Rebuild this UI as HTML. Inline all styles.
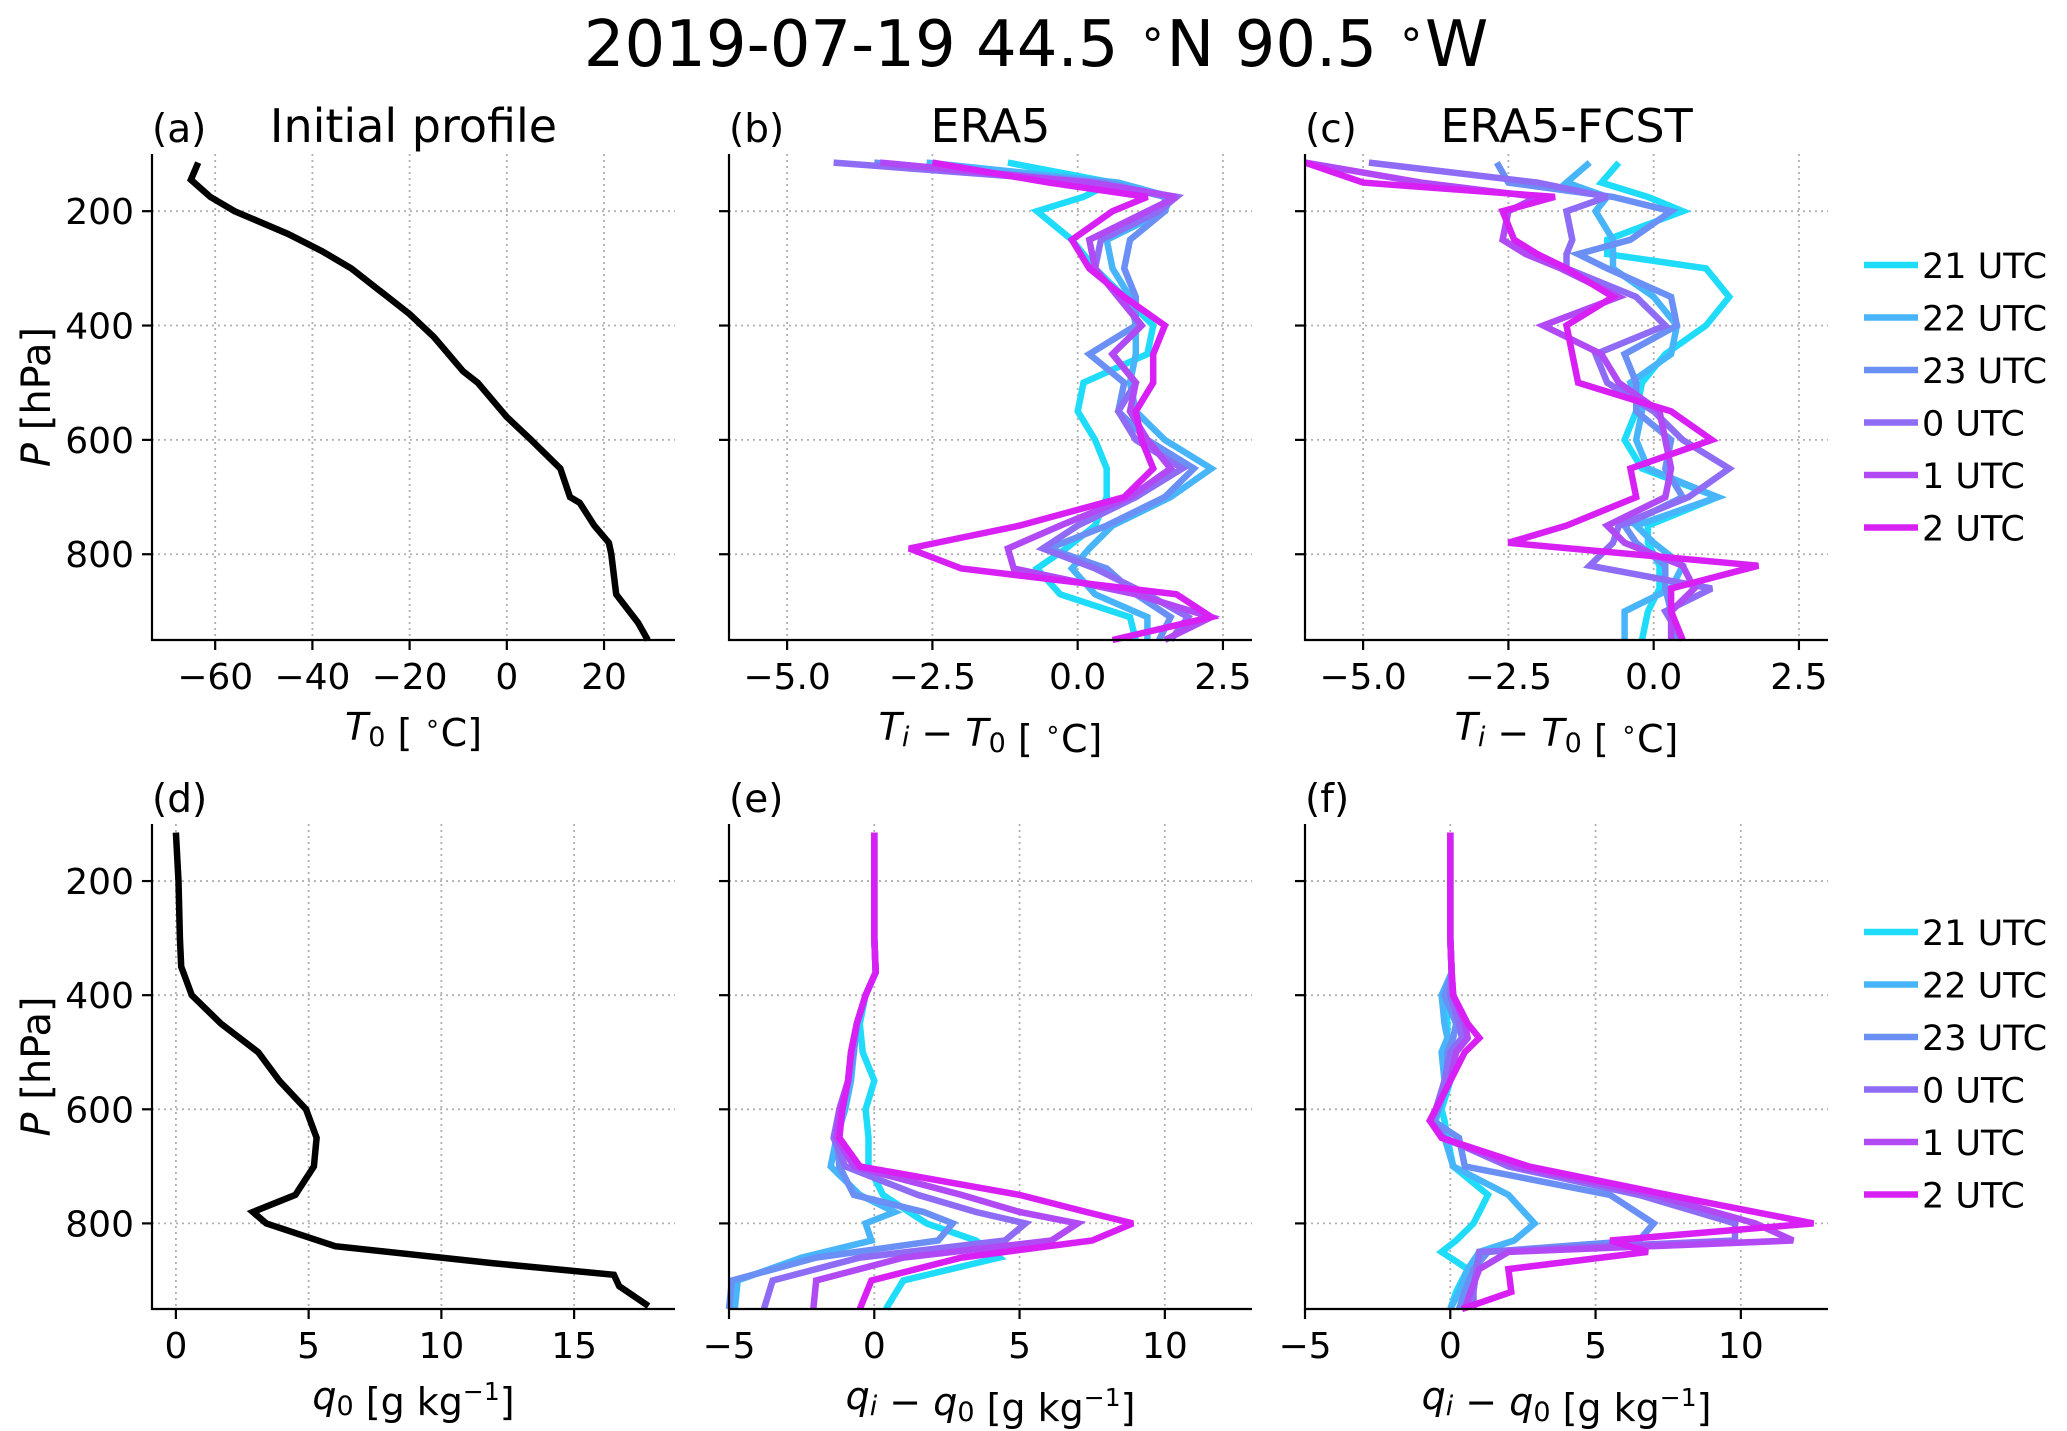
<!DOCTYPE html>
<html><head><meta charset="utf-8"><style>
html,body{margin:0;padding:0;background:#fff;}
svg{display:block;font-family:"DejaVu Sans","Liberation Sans",sans-serif;}
</style></head><body>
<svg id="fig" width="2067" height="1431" viewBox="0 0 2067 1431" xmlns="http://www.w3.org/2000/svg">
<rect width="2067" height="1431" fill="#fff"/>
<text x="1036" y="66" font-size="64" text-anchor="middle">2019-07-19 44.5 <tspan font-size="44" dy="-18">∘</tspan><tspan dy="18">N 90.5 </tspan><tspan font-size="44" dy="-18">∘</tspan><tspan dy="18">W</tspan></text>
</svg>
<script>
// ---- data ----
const seriesNames = ["21 UTC","22 UTC","23 UTC","0 UTC","1 UTC","2 UTC"];
const seriesColors = ["#1edcfa","#48b5fa","#6a90f6","#8e6cf5","#b14af5","#d820f5"];
const pressureTicks = [200,400,600,800];
const tickTemp = [-60,-40,-20,0,20];
const tickDT = [-5.0,-2.5,0.0,2.5];
const tickQ0 = [0,5,10,15];
const tickDQ = [-5,0,5,10];

const presT0 = [115,145,175,200,240,270,300,380,420,450,480,500,560,600,650,700,710,750,780,800,870,920,950];
const valT0  = [-63.5,-65,-61,-56,-45,-38,-32,-20,-15,-12,-9,-6,0,5,11,13,15,18,21,21.5,22.5,27,29];

const presQ0 = [115,200,300,350,400,450,500,550,600,650,700,750,780,800,840,870,890,910,945];
const valQ0  = [0,0.1,0.15,0.2,0.6,1.7,3.1,3.9,4.9,5.3,5.2,4.5,2.9,3.4,6,12,16.5,16.7,17.8];

const presB = [115,150,175,200,250,300,350,400,450,500,550,600,650,700,750,790,825,870,910,950];
const era5T21 = [-1.2,0.6,0.1,-0.7,-0.1,0.3,0.8,1.3,1.2,0.1,0.0,0.3,0.5,0.5,0.3,-0.2,-0.7,-0.3,0.9,1.0];
const era5T22 = [-2.6,0.7,1.6,1.5,0.5,0.6,0.9,1.0,1.0,0.9,1.0,1.5,2.3,1.6,0.6,0.2,-0.1,0.3,1.2,1.2];
const era5T23 = [-3.5,0.5,1.5,1.5,0.9,0.8,1.0,1.0,0.2,0.8,0.7,1.2,2.0,1.5,0.5,-0.5,0.5,1.0,1.6,1.4];
const era5T0  = [-4.2,0.3,1.7,1.4,0.4,0.3,0.7,1.1,0.6,1.0,0.7,1.0,1.8,1.0,0.0,-0.6,0.3,1.2,1.9,1.6];
const era5T1  = [-3.4,0.2,1.7,1.2,0.2,0.3,0.7,1.1,0.6,1.0,0.9,1.2,1.6,0.9,-0.3,-1.2,-1.1,1.0,2.3,1.5];
const era5T2  = [-2.5,-0.5,1.2,0.6,-0.1,0.2,0.8,1.5,1.3,1.3,1.0,1.1,1.3,0.8,-1.0,-2.9,-2.0,1.7,2.3,0.6];

const presC = [115,150,175,200,250,275,300,350,400,450,500,550,600,650,700,750,780,820,860,900,950];
const fcstT21 = [-0.6,-0.9,-0.1,0.5,-0.8,-0.8,0.9,1.3,0.9,0.2,-0.2,-0.3,-0.5,-0.2,1.1,-0.1,-0.1,0.1,0.1,-0.1,-0.2];
const fcstT22 = [-1.1,-1.5,-0.8,-1.0,-0.7,-0.7,-0.7,0.0,0.4,0.3,-0.4,-0.2,-0.3,-0.1,1.1,-0.3,0.0,0.5,0.3,-0.5,-0.5];
const fcstT23 = [-2.7,-2.5,-0.7,0.3,-0.4,-1.3,-0.8,0.3,0.4,-0.5,-0.3,-0.3,0.3,0.2,0.5,-0.5,-0.3,0.2,0.2,0.3,0.4];
const fcstT0  = [-4.9,-2.0,-0.8,-1.5,-1.4,-1.5,-1.5,-0.3,0.2,-1.0,-0.8,0.0,0.5,1.3,0.6,-0.6,-0.7,-1.1,1.0,0.2,0.5];
const fcstT1  = [-6.0,-4.0,-2.0,-2.5,-2.6,-2.2,-1.6,-0.6,-1.9,-0.9,-0.6,0.1,0.2,0.3,0.2,-0.8,-0.5,0.5,0.7,0.3,0.3];
const fcstT2  = [-6.0,-5.0,-1.7,-2.6,-2.4,-2.0,-1.5,-0.7,-1.5,-1.4,-1.3,0.3,1.0,-0.4,-0.3,-1.5,-2.5,1.8,0.3,0.3,0.5];

const presE = [115,200,300,360,400,450,500,550,600,650,700,750,780,800,830,860,900,950];
const era5Q21 = [0,0,0,0.05,-0.3,-0.5,-0.4,0.0,-0.3,-0.2,-0.2,0.3,1.2,1.8,3.5,4.3,1.0,0.4];
const era5Q22 = [0,0,0,0.05,-0.3,-0.6,-0.7,-0.8,-1.0,-1.3,-1.5,-0.5,0.7,-0.3,-0.1,-2.5,-4.7,-4.8];
const era5Q23 = [0,0,0,0.05,-0.3,-0.6,-0.7,-0.9,-1.1,-1.3,-1.2,-0.7,1.7,2.7,2.2,-2.0,-4.9,-5.0];
const era5Q0  = [0,0,0,0.05,-0.3,-0.6,-0.8,-0.9,-1.2,-1.4,-1.0,1.5,3.5,5.2,4.5,-0.5,-3.5,-3.8];
const era5Q1  = [0,0,0,0.05,-0.3,-0.6,-0.8,-0.9,-1.2,-1.3,-0.7,3.0,5.0,7.0,6.1,1.0,-2.0,-2.1];
const era5Q2  = [0,0,0,0.05,-0.3,-0.6,-0.8,-0.9,-1.1,-1.2,-0.5,5.0,7.3,8.9,7.5,3.0,-0.1,-0.5];

const presF = [115,200,300,360,400,450,475,500,550,600,620,650,700,750,800,830,850,880,920,950];
const fcstQ21 = [0,0,0,0.05,-0.2,-0.1,-0.1,-0.1,0.0,-0.3,-0.2,-0.1,0.1,1.3,0.8,0.2,-0.3,0.6,0.2,0.0];
const fcstQ22 = [0,0,0,0.05,-0.3,-0.2,-0.1,-0.3,-0.2,-0.4,-0.5,-0.2,0.1,2.0,2.9,2.2,1.0,0.6,0.3,0.0];
const fcstQ23 = [0,0,0,0.05,-0.2,0.2,0.1,-0.1,-0.1,-0.4,-0.6,0.3,0.5,5.5,7.0,6.5,1.3,0.8,0.5,0.3];
const fcstQ0  = [0,0,0,0.05,0.0,0.3,0.4,0.0,-0.2,-0.5,-0.7,-0.2,2.0,6.5,9.8,9.8,1.0,0.9,0.8,0.8];
const fcstQ1  = [0,0,0,0.05,0.1,0.5,0.6,0.2,0.0,-0.5,-0.7,-0.3,2.3,7.0,10.5,11.8,2.0,1.0,0.7,0.5];
const fcstQ2  = [0,0,0,0.05,0.1,0.6,1.0,0.5,0.0,-0.5,-0.7,-0.3,2.7,7.5,12.5,5.5,6.8,2.0,2.1,0.4];

// ---- drawing ----
const NS="http://www.w3.org/2000/svg";
const svg=document.getElementById('fig');
function mk(tag,attrs,parent){const e=document.createElementNS(NS,tag);for(const k in attrs)e.setAttribute(k,attrs[k]);(parent||svg).appendChild(e);return e;}

const rowY=[[154,640],[824,1309]];
const colX=[[152,675],[729,1252],[1305,1828]];
const PMIN=100,PMAX=950;

function panel(id,col,row,xlim,xticks,fmt,label,title,xlab,series,showY){
  const [x0,x1]=colX[col],[y0,y1]=rowY[row];
  const g=mk('g',{});
  
  
  const sx=v=>x0+(v-xlim[0])/(xlim[1]-xlim[0])*(x1-x0);
  const sy=p=>y0+(p-PMIN)/(PMAX-PMIN)*(y1-y0);
  xticks.forEach(t=>{const l=mk('line',{x1:sx(t),x2:sx(t),y1:y0,y2:y1,stroke:'#b0b0b0','stroke-width':1.8,'stroke-dasharray':'2,4'},g);
    });
  pressureTicks.forEach(p=>{const l=mk('line',{x1:x0,x2:x1,y1:sy(p),y2:sy(p),stroke:'#b0b0b0','stroke-width':1.8,'stroke-dasharray':'2,4'},g);
    });
  series.forEach(s=>{
    const pts=s.v.map((v,i)=>sx(v).toFixed(1)+','+sy(s.p[i]).toFixed(1)).join(' ');
    const pl=mk('polyline',{points:pts,fill:'none',stroke:s.c,'stroke-width':6.5,'stroke-linejoin':'miter','stroke-miterlimit':3},g);
    
    
  });
  mk('line',{x1:x0,x2:x0,y1:y0,y2:y1+1,stroke:'#000','stroke-width':2.2},g);
  mk('line',{x1:x0-1,x2:x1,y1:y1,y2:y1,stroke:'#000','stroke-width':2.2},g);
  xticks.forEach(t=>{mk('line',{x1:sx(t),x2:sx(t),y1:y1,y2:y1+10,stroke:'#000','stroke-width':2.2},g);
    const tx=mk('text',{x:sx(t),y:y1+49,'font-size':36,'text-anchor':'middle'},g);tx.textContent=fmt(t).replace('-','\u2212');
    });
  pressureTicks.forEach(p=>{mk('line',{x1:x0-10,x2:x0,y1:sy(p),y2:sy(p),stroke:'#000','stroke-width':2.2},g);
    if(showY){const tx=mk('text',{x:x0-18,y:sy(p)+13,'font-size':36,'text-anchor':'end'},g);tx.textContent=p;
      }});
  if(showY){const yl=mk('text',{transform:`translate(50,${(y0+y1)/2}) rotate(-90)`,'font-size':40,'text-anchor':'middle'},g);
    yl.innerHTML='<tspan font-style="italic">P</tspan> [hPa]';
    }
  const pl=mk('text',{x:x0,y:y0-12,'font-size':39},g);pl.textContent=label;
  
  if(title){const t=mk('text',{x:(x0+x1)/2,y:y0-12,'font-size':46,'text-anchor':'middle'},g);t.textContent=title;
    }
  const xl=mk('text',{x:(x0+x1)/2,y:y1+100,'font-size':38,'text-anchor':'middle'},g);xl.innerHTML=xlab;
  
}
function six(p,arrs){return arrs.map((a,i)=>({p:p,v:a,c:seriesColors[i],n:'line-'+seriesNames[i].replace(' ','-').toLowerCase()}));}
const f1=t=>t.toFixed(1), f0=t=>String(t);
const sub=(b,s,it)=>`<tspan font-style="italic">${b}</tspan><tspan font-size="27" dy="6"${it?' font-style="italic"':''}>${s}</tspan><tspan dy="-6"></tspan>`;
const deg=`[ <tspan font-size="26" dy="-14">∘</tspan><tspan dy="14">C]</tspan>`;
const dT=`${sub('T','i',1)} \u2212 ${sub('T','0')} ${deg}`;
const kg=`[g kg<tspan font-size="25" dy="-15">\u22121</tspan><tspan dy="15">]</tspan>`;
const dQ=`${sub('q','i',1)} \u2212 ${sub('q','0')} ${kg}`;
panel('a',0,0,[-73,34.6],tickTemp,f0,'(a)','Initial profile',`${sub('T','0')} ${deg}`,[{p:presT0,v:valT0,c:'#000',n:'line-t0'}],true);
panel('b',1,0,[-6,3],tickDT,f1,'(b)','ERA5',dT,six(presB,[era5T21,era5T22,era5T23,era5T0,era5T1,era5T2]),false);
panel('c',2,0,[-6,3],tickDT,f1,'(c)','ERA5-FCST',dT,six(presC,[fcstT21,fcstT22,fcstT23,fcstT0,fcstT1,fcstT2]),false);
panel('d',0,1,[-0.9,18.8],tickQ0,f0,'(d)','',`${sub('q','0')} ${kg}`,[{p:presQ0,v:valQ0,c:'#000',n:'line-q0'}],true);
panel('e',1,1,[-5,13],tickDQ,f0,'(e)','',dQ,six(presE,[era5Q21,era5Q22,era5Q23,era5Q0,era5Q1,era5Q2]),false);
panel('f',2,1,[-5,13],tickDQ,f0,'(f)','',dQ,six(presF,[fcstQ21,fcstQ22,fcstQ23,fcstQ0,fcstQ1,fcstQ2]),false);

[[265,52.5],[932,52.5]].forEach((L,li)=>{
  const g=mk('g',{});
  
  
  seriesNames.forEach((n,i)=>{
    const y=L[0]+i*L[1];
    const e=mk('g',{},g);
    
    
    mk('line',{x1:1864,x2:1918,y1:y,y2:y,stroke:seriesColors[i],'stroke-width':6.5},e);
    const t=mk('text',{x:1922,y:y+13,'font-size':35},e);t.textContent=n;
  });
});
</script>
</body></html>
